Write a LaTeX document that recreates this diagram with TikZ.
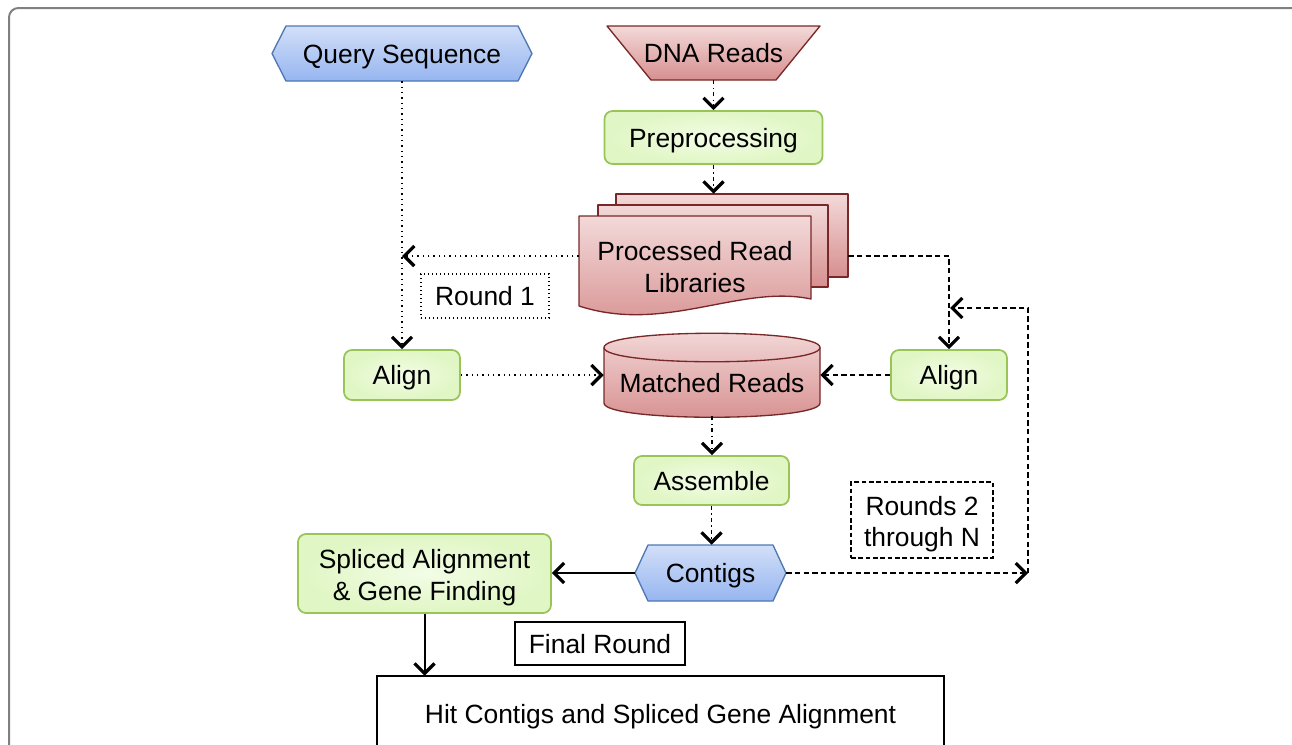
\documentclass[tikz,border=0pt]{standalone}
\usepackage{fontspec}
\setmainfont{Liberation Sans}
\usetikzlibrary{arrows.meta}
\definecolor{blueT}{RGB}{210,223,248}
\definecolor{blueB}{RGB}{150,181,240}
\definecolor{blueD}{RGB}{78,120,180}
\definecolor{redT}{RGB}{243,217,217}
\definecolor{redB}{RGB}{215,143,143}
\definecolor{redD}{RGB}{120,40,40}
\definecolor{grnI}{RGB}{243,253,230}
\definecolor{grnO}{RGB}{224,246,196}
\definecolor{grnD}{RGB}{152,196,88}
\definecolor{frameC}{RGB}{128,128,128}
\begin{document}
\begin{tikzpicture}[x=0.75pt,y=-0.75pt,
  every node/.style={font=\fontsize{19.8}{23.5}\selectfont, inner sep=0pt, align=center},
  sl/.style={text height=14.8pt, text depth=0pt},
  anch/.style={draw=none},
  bluefill/.style={top color=blueT, bottom color=blueB, draw=blueD, line width=1pt, line join=round},
  redfill/.style={top color=redT, bottom color=redB, draw=redD, line width=1pt, line join=round},
  greenbox/.style={rounded corners=6pt, inner color=grnI, outer color=grnO, draw=grnD, line width=1.3pt},
  dotbox/.style={draw, line width=0.8pt, dash pattern=on 1pt off 2pt},
  dashbox/.style={draw, line width=0.9pt, dash pattern=on 3.5pt off 2pt},
  solidbox/.style={draw, line width=1.4pt},
  tip/.style={-{Straight Barb[length=7.5pt,width=15pt,line width=2.4pt]}},
  dotc/.style={line width=1.1pt, dash pattern=on 1.1pt off 2.9pt, tip},
  dashc/.style={line width=1.1pt, dash pattern=on 4pt off 2.5pt, tip},
  ddc/.style={line width=1.1pt, dash pattern=on 3pt off 2.5pt on 1pt off 2.5pt, tip},
  solc/.style={line width=1.5pt, tip}
]
\useasboundingbox (0,0) rectangle (1292,744);
\fill[white] (0,0) rectangle (1292,744);
% outer frame
\draw[frameC, line width=1.5pt, rounded corners=7pt] (9,760) -- (9,8) -- (1310,8);

% Query Sequence
\path[bluefill] (272,53.5) -- (286,26) -- (518,26) -- (532,53.5) -- (518,81) -- (286,81) -- cycle;
\node[anch, sl, minimum width=260*0.75pt, minimum height=55*0.75pt] (qs) at (402,53.5) {Query Sequence};

% DNA Reads
\path[redfill] (607,26) -- (820,26) -- (776,80) -- (651,80) -- cycle;
\node[anch, sl, minimum width=213*0.75pt, minimum height=54*0.75pt] (dna) at (713.5,53) {DNA Reads};

% Preprocessing
\node[greenbox, sl, minimum width=218*0.75pt, minimum height=53*0.75pt] (pre) at (713.5,137.5) {Preprocessing};

% Processed Read Libraries
\path[redfill] (616,194) rectangle (848,277);
\path[redfill] (598,205) rectangle (828,287);
\path[redfill] (579,216) -- (811,216) -- (811,299) .. controls (740,284) and (665,334) .. (579,306) -- cycle;
\node[anch, minimum width=269*0.75pt, minimum height=124*0.75pt] (prl) at (713.5,256) {};
\node (prlt) at (695,267) {Processed Read\\Libraries};

% Round 1
\node[dotbox, sl, minimum width=128*0.75pt, minimum height=44*0.75pt] (r1) at (485,296) {Round 1};

% Align boxes
\node[greenbox, sl, minimum width=116*0.75pt, minimum height=50*0.75pt] (al) at (402,375) {Align};
\node[greenbox, sl, minimum width=116*0.75pt, minimum height=50*0.75pt] (ar) at (949,375) {Align};

% Matched Reads cylinder
\path[redfill] (604,347.5) -- (604,403) .. controls (604,422) and (820,422) .. (820,403) -- (820,347.5) .. controls (820,328.5) and (604,328.5) .. cycle;
\draw[redD, line width=1pt] (604,347.5) .. controls (604,366.5) and (820,366.5) .. (820,347.5);
\node[anch, minimum width=216*0.75pt, minimum height=82*0.75pt] (mr) at (712,375) {};
\node[sl] (mrt) at (712,383) {Matched Reads};

% Assemble
\node[greenbox, sl, minimum width=155*0.75pt, minimum height=49*0.75pt] (as) at (711.5,480.5) {Assemble};

% Rounds 2 through N
\node[dashbox, minimum width=142*0.75pt, minimum height=76*0.75pt] (r2) at (922,520) {};
\node (r2t) at (922,524) {Rounds 2\\through N};

% Contigs
\path[bluefill] (635,573) -- (648,545) -- (773,545) -- (786,573) -- (773,601) -- (648,601) -- cycle;
\node[anch, sl, minimum width=151*0.75pt, minimum height=56*0.75pt] (ct) at (710.5,573) {Contigs};

% Spliced alignment
\node[greenbox, minimum width=253*0.75pt, minimum height=79*0.75pt] (sp) at (424.5,573.5) {};
\node (spt) at (424.5,577.5) {Spliced Alignment\\\& Gene Finding};

% Final Round
\node[solidbox, sl, minimum width=170*0.75pt, minimum height=43*0.75pt] (fr) at (600,643.5) {Final Round};

% Hit contigs
\node[anch, sl, minimum width=567*0.75pt, minimum height=76*0.75pt] (hit) at (660.5,714) {Hit Contigs and Spliced Gene Alignment};
\draw[line width=1.4pt] (hit.south west) -- (hit.north west) -- (hit.north east) -- (hit.south east);

% connectors
\draw[ddc] (dna.south) -- (dna.south |- pre.north);
\draw[ddc] (pre.south) -- (pre.south |- prl.north);
\draw[dotc] (qs.south) -- (al.north);
\coordinate (j1) at (qs.south |- prl.west);
\draw[dotc] (prl.west) -- (j1);
\draw[dotc] (al.east) -- (al.east -| mr.west);
\draw[dashc] (prl.east) -| (ar.north);
\draw[dashc] (ar.west) -- (ar.west -| mr.east);
\draw[ddc] (mr.south) -- (mr.south |- as.north);
\draw[ddc] (as.south) -- (as.south |- ct.north);
\draw[solc] (ct.west) -- (ct.west -| sp.east);
\coordinate (c1) at (1028,573);
\coordinate (c2) at (950,308);
\draw[dashc] (ct.east) -- (c1);
\draw[dashc] (c1) |- (c2);
\draw[solc] (sp.south) -- (sp.south |- hit.north);
\end{tikzpicture}
\end{document}
